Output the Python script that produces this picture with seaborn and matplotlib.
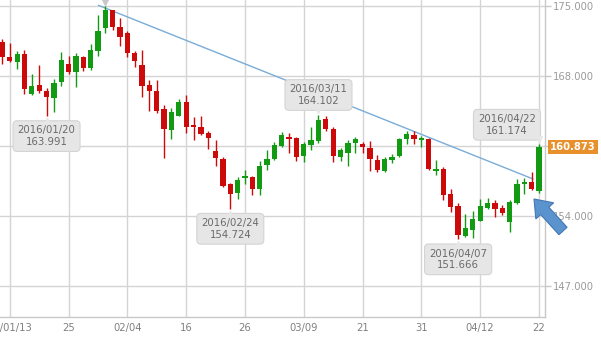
import matplotlib
matplotlib.use("Agg")
import matplotlib.pyplot as plt
import matplotlib.transforms as mtransforms
from matplotlib.patches import FancyArrow
import seaborn as sns
import pandas as pd
import numpy as np

# ---------------- data ----------------
dates = ["2016/01/12", "2016/01/13", "2016/01/14", "2016/01/15", "2016/01/18", "2016/01/19",
         "2016/01/20", "2016/01/21", "2016/01/22", "2016/01/25", "2016/01/26", "2016/01/27",
         "2016/01/28", "2016/01/29", "2016/02/01", "2016/02/02", "2016/02/03", "2016/02/04",
         "2016/02/05", "2016/02/08", "2016/02/09", "2016/02/10", "2016/02/11", "2016/02/12",
         "2016/02/15", "2016/02/16", "2016/02/17", "2016/02/18", "2016/02/19", "2016/02/22",
         "2016/02/23", "2016/02/24", "2016/02/25", "2016/02/26", "2016/02/29", "2016/03/01",
         "2016/03/02", "2016/03/03", "2016/03/04", "2016/03/07", "2016/03/08", "2016/03/09",
         "2016/03/10", "2016/03/11", "2016/03/14", "2016/03/15", "2016/03/16", "2016/03/17",
         "2016/03/18", "2016/03/21", "2016/03/22", "2016/03/23", "2016/03/24", "2016/03/25",
         "2016/03/28", "2016/03/29", "2016/03/30", "2016/03/31", "2016/04/01", "2016/04/04",
         "2016/04/05", "2016/04/06", "2016/04/07", "2016/04/08", "2016/04/11", "2016/04/12",
         "2016/04/13", "2016/04/14", "2016/04/15", "2016/04/18", "2016/04/19", "2016/04/20",
         "2016/04/21", "2016/04/22"]

opens = [171.37, 169.90, 169.43, 170.20, 166.17, 167.10, 166.53, 165.83, 167.43, 169.20,
         168.43, 169.93, 168.83, 170.53, 172.77, 174.60, 172.93, 172.27, 170.27, 169.10,
         167.10, 166.53, 164.70, 162.60, 164.03, 165.43, 163.10, 162.93, 162.27, 160.50,
         159.70, 157.20, 156.27, 157.77, 157.93, 156.70, 159.10, 159.70, 161.03, 161.93,
         161.83, 160.00, 161.10, 161.53, 163.70, 162.70, 159.93, 160.33, 161.27, 161.20,
         160.77, 159.60, 158.50, 159.60, 160.03, 161.67, 162.10, 161.60, 161.70, 158.53,
         158.70, 156.20, 155.00, 152.00, 152.60, 153.53, 154.83, 155.27, 154.77, 153.37,
         155.27, 157.17, 157.43, 156.50]
highs = [171.70, 171.33, 170.50, 170.60, 168.20, 169.10, 166.77, 167.70, 170.43, 170.00,
         170.33, 170.00, 171.17, 174.10, 175.05, 174.65, 173.77, 172.53, 170.50, 170.60,
         167.60, 167.60, 165.10, 164.77, 165.70, 166.10, 163.93, 164.00, 162.50, 161.60,
         159.93, 157.33, 157.93, 158.60, 158.00, 159.50, 160.60, 161.43, 162.43, 162.27,
         161.93, 161.43, 162.93, 164.102, 164.03, 162.87, 160.83, 161.60, 161.87, 161.43,
         161.50, 160.10, 159.87, 160.17, 161.77, 162.53, 162.53, 162.00, 161.77, 159.60,
         158.93, 156.67, 155.27, 154.17, 154.53, 155.67, 155.77, 155.60, 155.10, 155.60,
         157.67, 157.83, 158.37, 161.174]
lows = [169.17, 169.40, 168.70, 166.17, 166.10, 166.27, 163.991, 164.43, 167.00, 168.20,
        166.93, 168.50, 168.60, 170.03, 172.33, 172.60, 171.00, 169.93, 168.93, 165.93,
        164.53, 164.33, 159.77, 161.67, 164.03, 162.33, 161.60, 162.10, 160.67, 159.03,
        156.93, 154.724, 155.70, 157.17, 156.10, 156.10, 158.60, 159.60, 160.93, 160.33,
        159.50, 159.43, 160.60, 161.27, 162.53, 159.43, 159.53, 159.00, 160.27, 160.33,
        158.50, 158.43, 158.37, 159.27, 159.93, 161.20, 161.20, 160.87, 158.60, 158.10,
        155.60, 154.43, 151.666, 151.87, 151.85, 153.53, 154.70, 153.87, 154.10, 152.43,
        155.20, 156.20, 156.60, 156.33]
closes = [169.93, 169.53, 170.20, 166.67, 167.00, 166.53, 165.93, 167.33, 169.60, 168.43,
          170.00, 168.83, 170.60, 172.50, 174.60, 172.93, 171.93, 170.27, 169.53, 167.03,
          166.53, 164.53, 162.70, 164.37, 165.43, 162.93, 162.93, 162.17, 161.77, 159.77,
          157.03, 156.17, 157.60, 158.03, 156.70, 159.03, 159.70, 161.10, 162.10, 161.70,
          159.93, 161.17, 161.60, 163.60, 162.67, 160.00, 160.60, 161.33, 161.67, 160.87,
          159.67, 158.60, 159.70, 159.93, 161.70, 162.20, 161.67, 161.83, 158.70, 158.70,
          156.10, 154.93, 152.10, 152.83, 153.67, 155.00, 155.33, 154.70, 154.27, 155.43,
          157.20, 157.43, 156.70, 160.873]

xtick_dates = ["2016/01/13", "2016/01/25", "2016/02/04", "2016/02/16", "2016/02/26",
               "2016/03/09", "2016/03/21", "2016/03/31", "2016/04/12", "2016/04/22"]
xtick_labels = ["16/01/13", "25", "02/04", "16", "26", "03/09", "21", "31", "04/12", "22"]
yticks = [147, 154, 161, 168, 175]

# callouts: (date, value, position relative to candle)
callout_dates = ["2016/01/20", "2016/02/24", "2016/03/11", "2016/04/07", "2016/04/22"]
callout_values = [163.991, 154.724, 164.102, 151.666, 161.174]
callout_side = ["below", "below", "above", "below", "above_left"]

last_price = 160.873

# trend line endpoints (fractional candle index, price)
trend_x = [13.05, 72.2]
trend_y = [175.07, 157.70]

# ---------------- style ----------------
sns.set_style("white")
plt.rcParams["font.family"] = ["DejaVu Sans"]

W, H = 601, 337
fig = plt.figure(figsize=(W / 100, H / 100), dpi=100)
ax = fig.add_axes([0, 20 / H, 545 / W, 317 / H])

df = pd.DataFrame({"date": dates, "open": opens, "high": highs, "low": lows, "close": closes})
df["idx"] = np.arange(len(df))
up_col, down_col = "#129a12", "#cc0a0a"
df["color"] = np.where(df["close"] >= df["open"], up_col, down_col)
pos = {d: i for i, d in enumerate(dates)}

# grid
grid_col = "#d4d4d4"
for d in xtick_dates:
    ax.axvline(pos[d], color=grid_col, lw=1, zorder=0)
for v in yticks:
    ax.axhline(v, color=grid_col, lw=1, zorder=0)

# trend line
tdf = pd.DataFrame({"x": trend_x, "y": trend_y})
sns.lineplot(data=tdf, x="x", y="y", ax=ax, color="#79acd8", lw=1, zorder=2)

# wicks and bodies
ax.vlines(df["idx"], df["low"], df["high"], colors=df["color"], lw=1, zorder=3)
body_bot = np.minimum(df["open"], df["close"])
body_h = np.maximum(np.abs(df["close"] - df["open"]), 0.1)
ax.bar(df["idx"], body_h, bottom=body_bot, width=0.72, color=df["color"],
       edgecolor="none", zorder=4)

ax.set_xlim(-0.333, 73.82)
ax.set_ylim(143.9, 175.6)

ax.set_xticks([pos[d] for d in xtick_dates])
ax.set_xticklabels(xtick_labels)
ax.set_yticks(yticks)
# the tick label next to the last-price marker is hidden behind it
ax.set_yticklabels(["" if abs(v - last_price) < 1 else f"{v:.3f}" for v in yticks])
ax.yaxis.tick_right()
ax.tick_params(axis="y", length=4, width=1, color="#c8c8c8", pad=2,
               labelsize=7.2, labelcolor="#9a9a9a")
ax.tick_params(axis="x", length=0, pad=4.5, labelsize=7.2, labelcolor="#808080")
ax.set_xlabel("")
ax.set_ylabel("")
for s in ["left", "top"]:
    ax.spines[s].set_visible(False)
for s in ["right", "bottom"]:
    ax.spines[s].set_color("#c8c8c8")
    ax.spines[s].set_linewidth(1)

# callouts
box_face, box_edge = "#e6e6e6", "#d4d4d4"
for d, v, side in zip(callout_dates, callout_values, callout_side):
    i = pos[d]
    if side == "below":
        off, ptr_off, mk = (0, -20), -5, "^"
    elif side == "above":
        off, ptr_off, mk = (0, 20), 5, "v"
    else:
        off, ptr_off, mk = (-32, 19.5), 5, "v"
    ax.annotate(f"{d}\n{v:.3f}", xy=(i, v), xytext=off, textcoords="offset pixels",
                ha="center", va="center", fontsize=7.3, color="#6a6a6a",
                linespacing=1.2, zorder=10,
                bbox=dict(boxstyle="round,pad=0.45,rounding_size=0.4",
                          fc=box_face, ec=box_edge, lw=0.8))
    tr = mtransforms.offset_copy(ax.transData, fig=fig, x=0, y=ptr_off, units="dots")
    ax.plot([i], [v], marker=mk, ms=5, color=box_face, mec=box_face,
            transform=tr, zorder=11, clip_on=False)

# marker of the off-chart high label
tr = mtransforms.offset_copy(ax.transData, fig=fig, x=0, y=4, units="dots")
ax.plot([pos["2016/02/01"]], [highs[pos["2016/02/01"]]], marker="v", ms=5,
        color="#c8c8c8", transform=tr, zorder=11, clip_on=False)

# last price label
ax.annotate(f"{last_price:.3f}", xy=(1, last_price), xycoords=("axes fraction", "data"),
            xytext=(28, 0), textcoords="offset pixels", ha="center", va="center",
            fontsize=7.2, fontweight="bold", color="white", zorder=12,
            annotation_clip=False,
            bbox=dict(boxstyle="square,pad=0.2", fc="#e8902c", ec="none"))

# blue arrow pointing at last candles
arrow = FancyArrow(563, H - 231, -29, 32, width=11, head_width=24, head_length=16,
                   length_includes_head=True, fc="#5b93cf", ec="#4377b4", lw=0.8,
                   transform=mtransforms.IdentityTransform(), zorder=20)
fig.add_artist(arrow)

fig.savefig("out.png", dpi=100)
